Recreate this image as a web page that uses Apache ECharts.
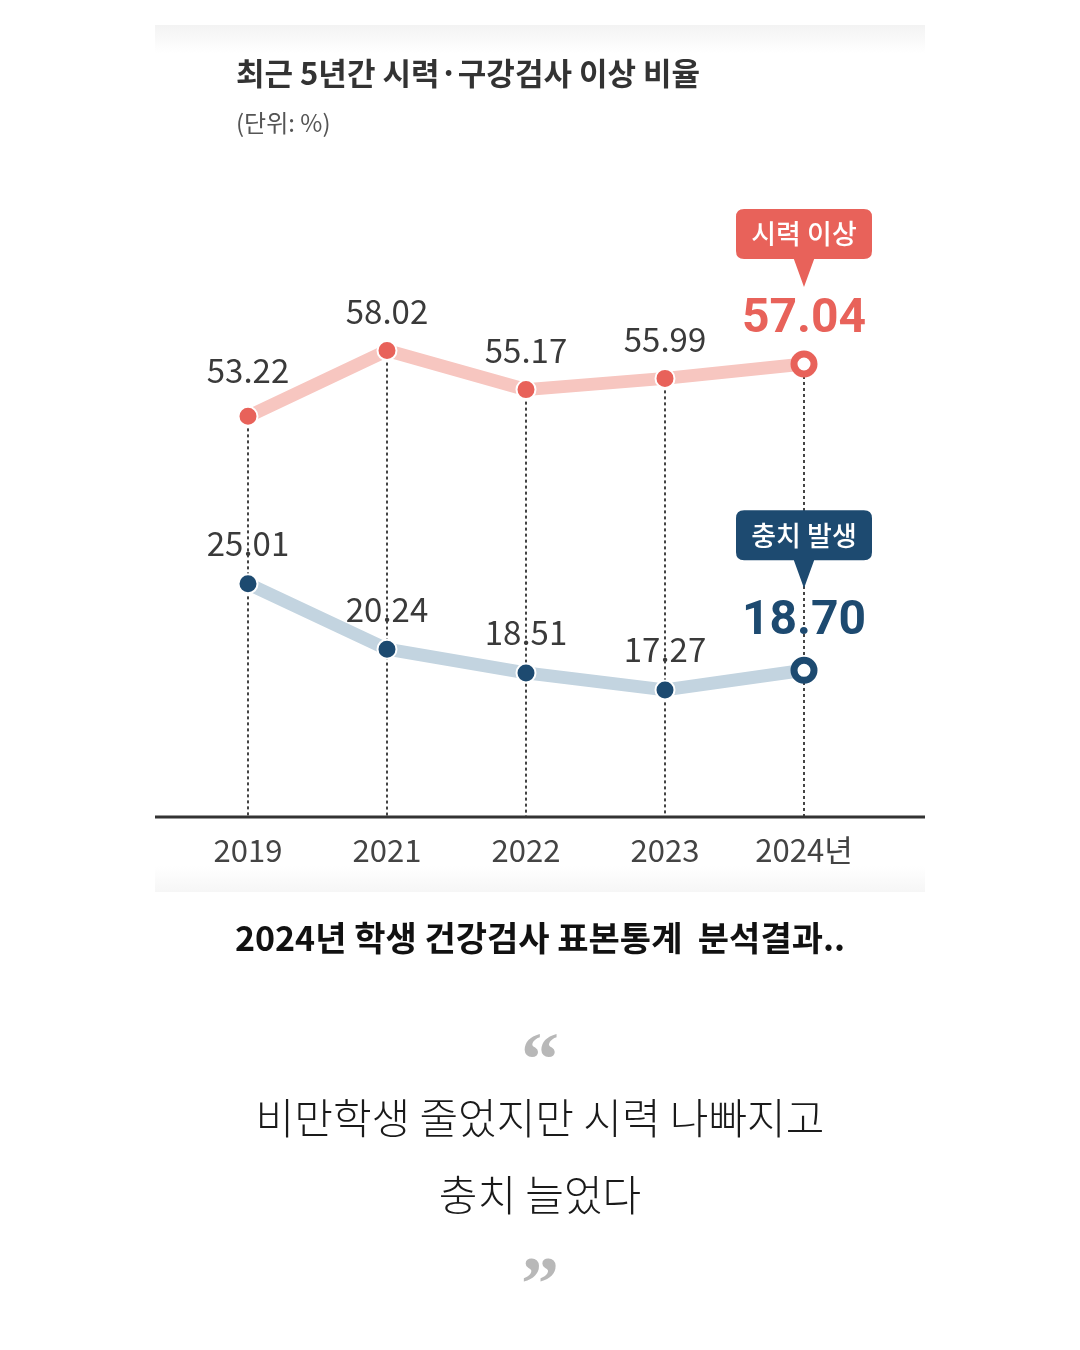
<!DOCTYPE html>
<html>
<head>
<meta charset="utf-8">
<title>최근 5년간 시력·구강검사 이상 비율</title>
<script src="https://cdn.jsdelivr.net/npm/echarts@6/dist/echarts.min.js"></script>
<style>
  html, body { margin: 0; padding: 0; background: #fff; }
  #chart { width: 1080px; height: 1350px; }
</style>
</head>
<body>
<div id="chart"></div>
<script>
// 연도
const years = ['2019', '2021', '2022', '2023', '2024년'];
// 시력 이상 (%)
const visionValues = [53.22, 58.02, 55.17, 55.99, 57.04];
// 충치 발생 (%)
const cavityValues = [25.01, 20.24, 18.51, 17.27, 18.70];
const visionName = '시력 이상';
const cavityName = '충치 발생';

const RED = '#e8625a';
const RED_LINE = '#f7c6c0';
const NAVY = '#1d4a70';
const NAVY_LINE = '#c3d4e0';
const FONT = '"Noto Sans CJK KR", "Noto Sans", sans-serif';
const QUOTE_FONT = '"Liberation Serif", "DejaVu Serif", serif';

const visionMin = 24, visionMax = 69;
const cavityMin = 8, cavityMax = 53;
const last = years.length - 1;

// 말풍선 모양 (둥근 사각형 + 아래 꼬리)
const bubble = 'path://M8,0 H126 Q134,0 134,8 V42 Q134,50 126,50 H77 L67,78 L57,50 H8 Q0,50 0,42 V8 Q0,0 8,0 Z';

function buildData(values, color, firstDist, normalDist, lastDist) {
  return values.map((v, i) => {
    if (i === last) {
      return {
        value: v,
        symbolSize: 20,
        itemStyle: { color: '#fff', borderColor: color, borderWidth: 7 },
        label: { fontSize: 48, fontWeight: 'bold', color: color, distance: lastDist, fontFamily: 'Roboto, ' + FONT }
      };
    }
    return {
      value: v,
      label: { distance: i === 0 ? firstDist : normalDist }
    };
  });
}

function guideLines(values, bottom) {
  return values.map((v, i) => [
    { coord: [i, v] },
    { coord: [i, bottom] }
  ]);
}

const chart = echarts.init(document.getElementById('chart'));

const option = {
  animation: false,
  backgroundColor: '#fff',
  title: [
    {
      text: '최근 5년간 시력·구강검사 이상 비율',
      left: 231, top: 53,
      textStyle: { fontFamily: FONT, fontSize: 31, fontWeight: 'bold', color: '#333' }
    },
    {
      text: '(단위: %)',
      left: 231, top: 106,
      textStyle: { fontFamily: FONT, fontSize: 24, fontWeight: 'normal', color: '#555' }
    },
    {
      text: '2024년 학생 건강검사 표본통계  분석결과..',
      left: 'center', top: 916,
      textStyle: { fontFamily: FONT, fontSize: 34, fontWeight: 'bold', color: '#111' }
    },
    {
      text: '\u201C',
      left: 'center', top: 1022,
      textStyle: { fontFamily: QUOTE_FONT, fontSize: 76, fontWeight: 'bold', color: '#b8b8b8' }
    },
    {
      text: '비만학생 줄었지만 시력 나빠지고',
      left: 'center', top: 1092,
      textStyle: { fontFamily: FONT, fontSize: 42, fontWeight: 300, color: '#1a1a1a' }
    },
    {
      text: '충치 늘었다',
      left: 'center', top: 1169,
      textStyle: { fontFamily: FONT, fontSize: 42, fontWeight: 300, color: '#1a1a1a' }
    },
    {
      text: '\u201D',
      left: 'center', top: 1246,
      textStyle: { fontFamily: QUOTE_FONT, fontSize: 76, fontWeight: 'bold', color: '#b8b8b8' }
    }
  ],
  graphic: [
    {
      type: 'rect',
      shape: { x: 155, y: 25, width: 770, height: 28 },
      style: {
        fill: new echarts.graphic.LinearGradient(0, 0, 0, 1, [
          { offset: 0, color: '#f3f3f3' },
          { offset: 1, color: '#ffffff' }
        ])
      },
      z: 0
    },
    {
      type: 'rect',
      shape: { x: 155, y: 866, width: 770, height: 26 },
      style: {
        fill: new echarts.graphic.LinearGradient(0, 0, 0, 1, [
          { offset: 0, color: '#ffffff' },
          { offset: 1, color: '#f6f6f6' }
        ])
      },
      z: 0
    },
    {
      type: 'line',
      shape: { x1: 155, y1: 817, x2: 925, y2: 817 },
      style: { stroke: '#333', lineWidth: 3 },
      z: 10
    }
  ],
  grid: { left: 178.5, right: 206.5, top: 200, bottom: 533 },
  xAxis: {
    type: 'category',
    data: years,
    boundaryGap: true,
    axisLine: { show: false },
    axisTick: { show: false },
    splitLine: { show: false },
    axisLabel: { color: '#444', fontSize: 31, fontFamily: FONT, margin: 18 }
  },
  yAxis: [
    { type: 'value', min: visionMin, max: visionMax, show: false, splitLine: { show: false } },
    { type: 'value', min: cavityMin, max: cavityMax, show: false, splitLine: { show: false } }
  ],
  series: [
    {
      name: visionName,
      type: 'line',
      yAxisIndex: 0,
      z: 3,
      data: buildData(visionValues, RED, 19, 12, 6),
      symbol: 'circle',
      symbolSize: 19,
      lineStyle: { color: RED_LINE, width: 13 },
      itemStyle: { color: RED, borderColor: '#fff', borderWidth: 2 },
      label: {
        show: true, position: 'top', distance: 12,
        fontSize: 33, color: '#3a3a3a', fontFamily: FONT,
        formatter: p => p.value.toFixed(2)
      },
      emphasis: { disabled: true },
      markLine: {
        silent: true,
        symbol: 'none',
        z: 1,
        label: { show: false },
        lineStyle: { color: '#444', width: 2, type: [3, 3] },
        data: guideLines(visionValues, visionMin)
      },
      markPoint: {
        silent: true,
        symbol: bubble,
        symbolSize: [136, 78],
        symbolOffset: [0, -116],
        itemStyle: { color: RED },
        label: {
          show: true, position: 'inside', offset: [0, -14],
          formatter: visionName,
          color: '#fff', fontSize: 27, fontFamily: FONT, fontWeight: 500
        },
        data: [{ coord: [last, visionValues[last]] }]
      }
    },
    {
      name: cavityName,
      type: 'line',
      yAxisIndex: 1,
      z: 3,
      data: buildData(cavityValues, NAVY, 13, 13, 11),
      symbol: 'circle',
      symbolSize: 19,
      lineStyle: { color: NAVY_LINE, width: 13 },
      itemStyle: { color: NAVY, borderColor: '#fff', borderWidth: 2 },
      label: {
        show: true, position: 'top', distance: 13,
        fontSize: 33, color: '#3a3a3a', fontFamily: FONT,
        formatter: p => p.value.toFixed(2)
      },
      emphasis: { disabled: true },
      markPoint: {
        silent: true,
        symbol: bubble,
        symbolSize: [136, 78],
        symbolOffset: [0, -121],
        itemStyle: { color: NAVY },
        label: {
          show: true, position: 'inside', offset: [0, -14],
          formatter: cavityName,
          color: '#fff', fontSize: 27, fontFamily: FONT, fontWeight: 500
        },
        data: [{ coord: [last, cavityValues[last]] }]
      }
    }
  ]
};

chart.setOption(option);
</script>
</body>
</html>
